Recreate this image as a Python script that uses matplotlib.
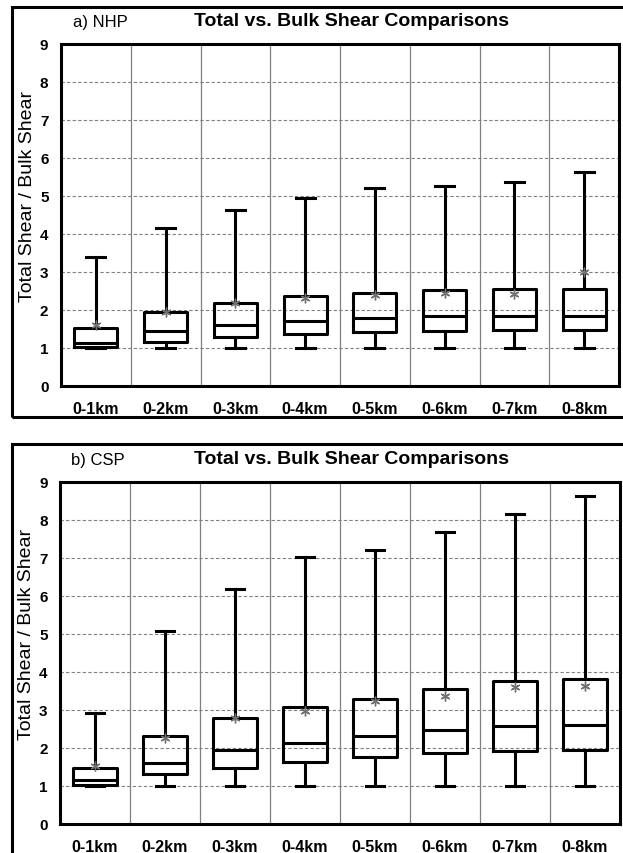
import matplotlib
matplotlib.use("Agg")
import matplotlib.pyplot as plt
from matplotlib.patches import Rectangle

plt.rcParams['font.family'] = ['Liberation Sans', 'DejaVu Sans']

labels = ['0-1km', '0-2km', '0-3km', '0-4km', '0-5km', '0-6km', '0-7km', '0-8km']

# panel a) NHP
nhp_low = [1.0, 1.0, 1.0, 1.0, 1.0, 1.0, 1.0, 1.0]
nhp_q1 = [1.02, 1.17, 1.29, 1.38, 1.43, 1.46, 1.47, 1.48]
nhp_med = [1.13, 1.44, 1.61, 1.71, 1.79, 1.83, 1.83, 1.85]
nhp_q3 = [1.53, 1.96, 2.18, 2.38, 2.45, 2.53, 2.55, 2.55]
nhp_high = [3.39, 4.15, 4.63, 4.95, 5.2, 5.26, 5.36, 5.62]
nhp_mean = [1.61, 1.94, 2.18, 2.32, 2.39, 2.46, 2.42, 3.0]

# panel b) CSP
csp_low = [1.0, 1.0, 1.0, 1.0, 1.0, 1.0, 1.0, 1.0]
csp_q1 = [1.03, 1.31, 1.48, 1.62, 1.77, 1.87, 1.92, 1.96]
csp_med = [1.17, 1.61, 1.94, 2.13, 2.32, 2.48, 2.58, 2.61]
csp_q3 = [1.47, 2.31, 2.79, 3.09, 3.29, 3.55, 3.76, 3.82]
csp_high = [2.92, 5.09, 6.18, 7.02, 7.22, 7.68, 8.17, 8.62]
csp_mean = [1.52, 2.26, 2.78, 2.97, 3.25, 3.38, 3.6, 3.62]

W, H = 623, 854
fig = plt.figure(figsize=(W / 100, H / 100), dpi=100)


def px_rect(x0, y0, x1, y1):
    # pixel box (top-left origin) -> figure fraction [l, b, w, h]
    return [x0 / W, 1 - y1 / H, (x1 - x0) / W, (y1 - y0) / H]


def draw_panel(rect, low, q1, med, q3, high, mean):
    ax = fig.add_axes(rect)
    stats = []
    for i in range(len(labels)):
        stats.append({'whislo': low[i], 'q1': q1[i], 'med': med[i], 'q3': q3[i],
                      'whishi': high[i], 'mean': mean[i], 'label': labels[i]})
    lw = 2.2
    ax.bxp(stats, positions=range(1, 9), widths=0.62, showmeans=True,
           showfliers=False, capwidths=0.27,
           boxprops=dict(color='black', linewidth=lw),
           medianprops=dict(color='black', linewidth=lw),
           whiskerprops=dict(color='black', linewidth=lw),
           capprops=dict(color='black', linewidth=lw),
           meanprops=dict(marker=(6, 2, 0), markersize=7, markeredgecolor='#707070',
                          markeredgewidth=1.0, linestyle='none'),
           zorder=3)
    ax.set_xlim(0.5, 8.5)
    ax.set_ylim(0, 9)
    ax.set_yticks(range(0, 10))
    for y in range(1, 9):
        ax.axhline(y, color='#808080', linewidth=0.8, linestyle=(0, (3, 2)), zorder=1)
    for x in range(1, 8):
        ax.axvline(x + 0.5, color='#808080', linewidth=0.9, zorder=1)
    for s in ax.spines.values():
        s.set_linewidth(2.2)
        s.set_color('black')
    ax.tick_params(length=0)
    ax.tick_params(axis='y', pad=9, labelsize=11)
    ax.tick_params(axis='x', pad=11, labelsize=11.5)
    for t in ax.get_xticklabels() + ax.get_yticklabels():
        t.set_fontweight('bold')
    ax.set_ylabel('Total Shear / Bulk Shear', fontsize=14)
    ax.yaxis.set_label_coords(-0.045, 0.556)
    return ax


# outer frames
fig.patches.append(Rectangle((12 / W, 1 - 418 / H), 1.0, 410 / H, transform=fig.transFigure,
                             fill=False, edgecolor='black', linewidth=2.2))
fig.patches.append(Rectangle((12 / W, -0.1), 1.0, (854 - 445) / H + 0.1, transform=fig.transFigure,
                             fill=False, edgecolor='black', linewidth=2.2))

draw_panel(px_rect(61, 45, 619, 387), nhp_low, nhp_q1, nhp_med, nhp_q3, nhp_high, nhp_mean)
draw_panel(px_rect(60, 483, 620, 825), csp_low, csp_q1, csp_med, csp_q3, csp_high, csp_mean)

fig.text(100 / W, 1 - 23 / H, 'a) NHP', fontsize=12, ha='center', va='center')
fig.text(351 / W, 1 - 21 / H, 'Total vs. Bulk Shear Comparisons', fontsize=14,
         fontweight='bold', ha='center', va='center')
fig.text(98 / W, 1 - 460 / H, 'b) CSP', fontsize=12, ha='center', va='center')
fig.text(351 / W, 1 - 459 / H, 'Total vs. Bulk Shear Comparisons', fontsize=14,
         fontweight='bold', ha='center', va='center')

fig.savefig('out.png', dpi=100)
